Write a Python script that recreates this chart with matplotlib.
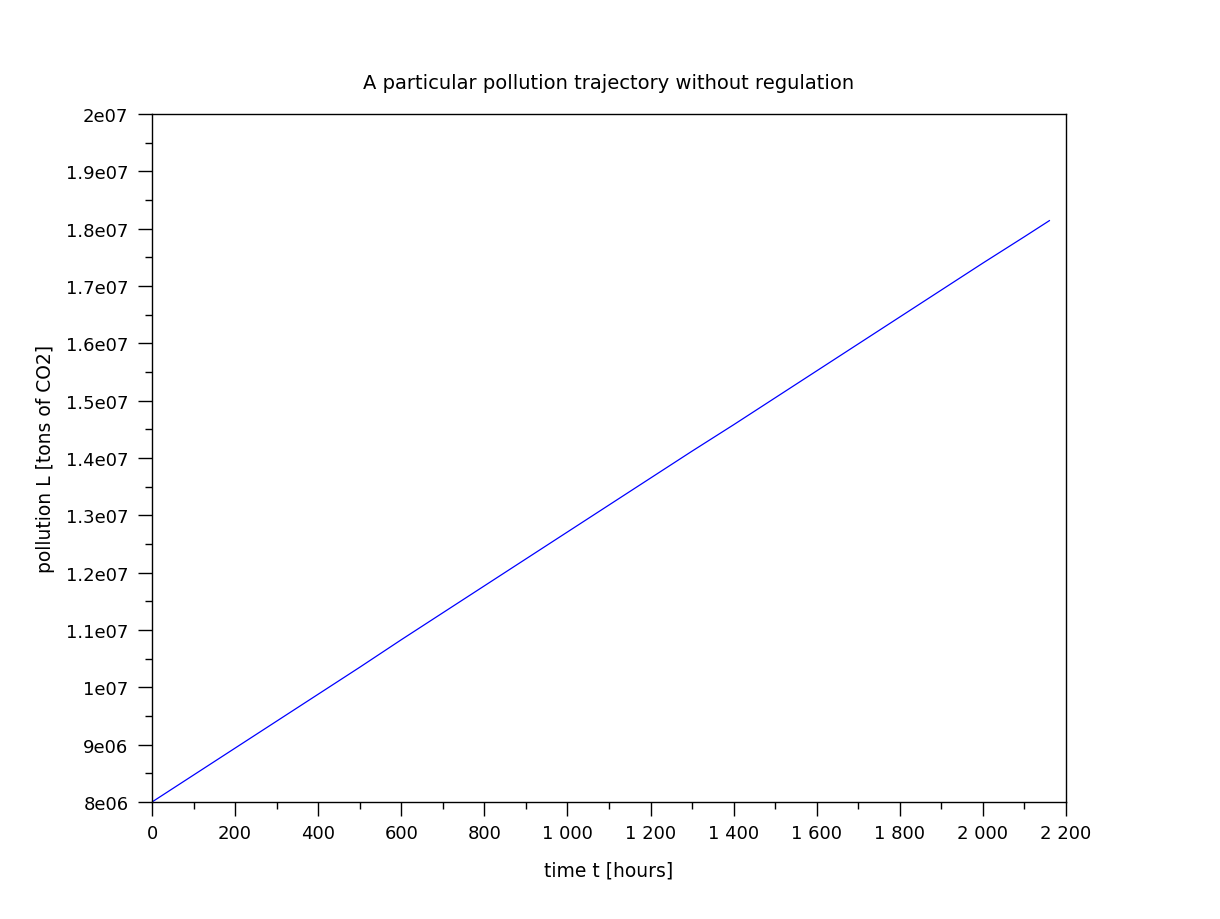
import matplotlib
matplotlib.use("Agg")
import matplotlib.pyplot as plt
from matplotlib.ticker import MultipleLocator, FuncFormatter

t_hours = [0, 100, 200, 300, 400, 500, 600, 700, 800, 900, 1000, 1100, 1200,
           1300, 1400, 1500, 1600, 1700, 1800, 1900, 2000, 2100, 2160]
pollution = [8.00e6, 8.47e6, 8.94e6, 9.41e6, 9.88e6, 10.35e6, 10.83e6, 11.30e6,
             11.77e6, 12.24e6, 12.71e6, 13.18e6, 13.65e6, 14.12e6, 14.58e6,
             15.05e6, 15.52e6, 15.99e6, 16.46e6, 16.93e6, 17.40e6, 17.86e6, 18.14e6]

title = "A particular pollution trajectory without regulation"
xlabel = "time t [hours]"
ylabel = "pollution L [tons of CO2]"

plt.rcParams['font.family'] = ['DejaVu Sans']

fig = plt.figure(figsize=(12.2, 9.2), dpi=100)
ax = fig.add_axes([152/1220, 1 - 803/920, (1066-152)/1220, (803-115)/920])
ax.plot(t_hours, pollution, color='#0000ff', linewidth=0.9)
ax.set_xlim(0, 2200)
ax.set_ylim(8e6, 2e7)

ax.xaxis.set_major_locator(MultipleLocator(200))
ax.xaxis.set_minor_locator(MultipleLocator(100))
ax.yaxis.set_major_locator(MultipleLocator(1e6))
ax.yaxis.set_minor_locator(MultipleLocator(5e5))

def xfmt(v, pos):
    s = f"{int(round(v)):,}".replace(",", " ")
    return s

def yfmt(v, pos):
    if v >= 1e7:
        mant = v / 1e7
        s = f"{mant:.1f}".rstrip('0').rstrip('.')
        return f"{s}e07"
    else:
        s = f"{v / 1e6:.1f}".rstrip('0').rstrip('.')
        return f"{s}e06"

ax.xaxis.set_major_formatter(FuncFormatter(xfmt))
ax.yaxis.set_major_formatter(FuncFormatter(yfmt))

ax.tick_params(which='major', direction='out', length=10, width=1, labelsize=13, colors='black')
ax.tick_params(axis='y', which='major', pad=7)
ax.tick_params(axis='x', which='major', pad=6)
ax.tick_params(which='minor', direction='out', length=5, width=1)
for sp in ax.spines.values():
    sp.set_linewidth(1)

ax.set_title(title, fontsize=14, pad=19)
ax.set_xlabel(xlabel, fontsize=13.5, labelpad=13)
ax.set_ylabel(ylabel, fontsize=13.5, labelpad=8)

fig.savefig("out.png", dpi=100)
